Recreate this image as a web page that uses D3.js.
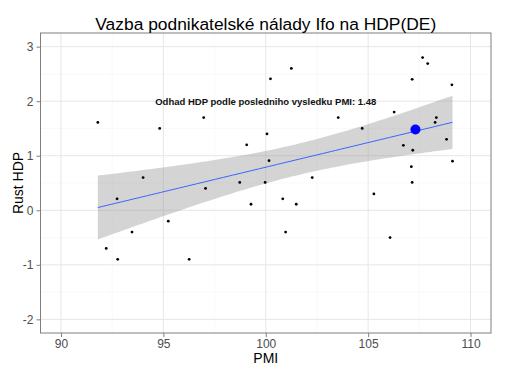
<!DOCTYPE html>
<html><head><meta charset="utf-8">
<script src="https://cdn.jsdelivr.net/npm/d3@7"></script>
<style>body{margin:0;background:#fff}svg{display:block;font-family:"Liberation Sans",Arial,sans-serif}</style>
</head><body>
<script>
const pmi = [91.80,94.82,94.01,101.25,100.23,96.97,103.54,100.06,99.07,100.16,102.27,98.73,99.97,107.66,107.91,107.15,109.09,106.27,104.71,108.33,108.27,108.83,106.72,107.18,109.12,107.11,107.15,92.74,95.24,93.47,92.21,92.77,96.26,97.06,99.28,100.83,101.49,100.97,105.28,106.07];
const gdp = [1.61,1.50,0.60,2.60,2.41,1.70,1.70,1.40,1.20,0.91,0.60,0.51,0.51,2.80,2.69,2.40,2.30,1.80,1.50,1.70,1.61,1.30,1.19,1.10,0.90,0.80,0.51,0.21,-0.20,-0.40,-0.70,-0.90,-0.90,0.40,0.11,0.21,0.11,-0.40,0.30,-0.50];
const latestPMI = [107.31];
const latestGDP = [1.48];
const xTicks = [90,95,100,105,110];
const yTicks = [-2,-1,0,1,2,3];
const xMinor = [92.5,97.5,102.5,107.5];
const yMinor = [-1.5,-0.5,0.5,1.5,2.5];
const title = "Vazba podnikatelské nálady Ifo na HDP(DE)";
const label = "Odhad HDP podle posledniho vysledku PMI: 1.48";

const W=506,H=373;
const svg=d3.select("body").append("svg").attr("width",W).attr("height",H);
svg.append("rect").attr("width",W).attr("height",H).attr("fill","#fff");
const L=40.5,R=491,T=33,B=333;
const x=d3.scaleLinear().domain([89,111]).range([L,R]);
const y=d3.scaleLinear().domain([-2.25,3.25]).range([B,T]);

const g=svg.append("g");
g.selectAll(".mnx").data(xMinor).join("line").attr("x1",d=>x(d)).attr("x2",d=>x(d)).attr("y1",T).attr("y2",B).attr("stroke","#f5f5f5").attr("stroke-width",0.6);
g.selectAll(".mny").data(yMinor).join("line").attr("y1",d=>y(d)).attr("y2",d=>y(d)).attr("x1",L).attr("x2",R).attr("stroke","#f5f5f5").attr("stroke-width",0.6);
g.selectAll(".mjx").data(xTicks).join("line").attr("x1",d=>x(d)).attr("x2",d=>x(d)).attr("y1",T).attr("y2",B).attr("stroke","#e6e6e6").attr("stroke-width",1);
g.selectAll(".mjy").data(yTicks).join("line").attr("y1",d=>y(d)).attr("y2",d=>y(d)).attr("x1",L).attr("x2",R).attr("stroke","#e6e6e6").attr("stroke-width",1);

// linear regression with 95% confidence band
const n=pmi.length, mx=d3.mean(pmi), my=d3.mean(gdp);
let sxx=0,sxy=0; for(let i=0;i<n;i++){sxx+=(pmi[i]-mx)**2;sxy+=(pmi[i]-mx)*(gdp[i]-my);}
const b=sxy/sxx, a=my-b*mx;
let sse=0; for(let i=0;i<n;i++){sse+=(gdp[i]-a-b*pmi[i])**2;}
const s=Math.sqrt(sse/(n-2)), tq=2.024;
const [x0,x1]=d3.extent(pmi);
const grid=d3.range(80).map(i=>x0+(x1-x0)*i/79);
const band=grid.map(v=>{const f=a+b*v, se=s*Math.sqrt(1/n+(v-mx)**2/sxx);return {v,f,lo:f-tq*se,hi:f+tq*se};});
g.append("path").datum(band).attr("d",d3.area().x(d=>x(d.v)).y0(d=>y(d.lo)).y1(d=>y(d.hi))).attr("fill","#999").attr("fill-opacity",0.42);
g.append("path").datum(band).attr("d",d3.line().x(d=>x(d.v)).y(d=>y(d.f))).attr("fill","none").attr("stroke","#3366FF").attr("stroke-width",1);

g.selectAll(".pt").data(pmi).join("circle").attr("cx",d=>x(d)).attr("cy",(d,i)=>y(gdp[i])).attr("r",1.4).attr("fill","#000");
g.selectAll(".big").data(latestPMI).join("circle").attr("cx",d=>x(d)).attr("cy",(d,i)=>y(latestGDP[i])).attr("r",5).attr("fill","#0000FF");

svg.append("text").attr("x",x(100)).attr("y",y(2)).attr("dy","0.35em").attr("text-anchor","middle").attr("font-size",9.5).attr("font-weight","bold").attr("fill","#111").text(label);

svg.append("rect").attr("x",L).attr("y",T).attr("width",R-L).attr("height",B-T).attr("fill","none").attr("stroke","#7f7f7f").attr("stroke-width",1);

const ax=svg.append("g").attr("transform",`translate(0,${B})`).call(d3.axisBottom(x).tickValues(xTicks).tickSize(4).tickPadding(2));
const ay=svg.append("g").attr("transform",`translate(${L},0)`).call(d3.axisLeft(y).tickValues(yTicks).tickSize(4).tickPadding(3).tickFormat(d=>d<0?"-"+Math.abs(d):d));
[ax,ay].forEach(s=>{s.select(".domain").remove();s.selectAll("line").attr("stroke","#7f7f7f");s.selectAll("text").attr("fill","#4d4d4d").attr("font-size",12).attr("font-family","Liberation Sans, Arial, sans-serif");});

svg.append("text").attr("x",(L+R)/2).attr("y",29.5).attr("text-anchor","middle").attr("font-size",17.4).attr("fill","#000").text(title);
svg.append("text").attr("x",(L+R)/2).attr("y",363).attr("text-anchor","middle").attr("font-size",14).attr("fill","#000").text("PMI");
svg.append("text").attr("transform",`translate(23,${(T+B)/2}) rotate(-90)`).attr("text-anchor","middle").attr("font-size",14).attr("fill","#000").text("Rust HDP");
</script>
</body></html>
